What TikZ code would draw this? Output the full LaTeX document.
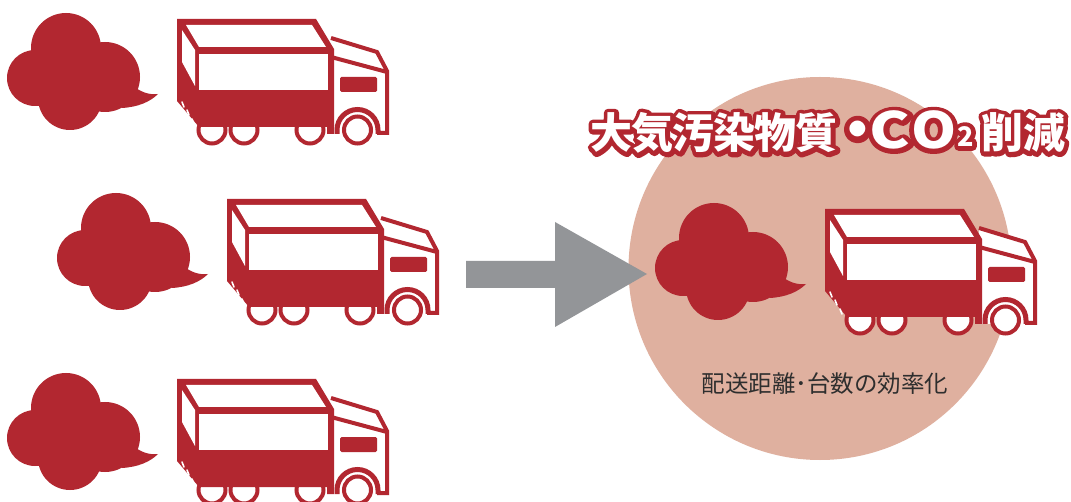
\documentclass[tikz,border=0pt]{standalone}
\usepackage{fontspec}
\usepackage{graphicx}
\newfontfamily\jpfont{Noto Sans CJK JP}
\usetikzlibrary{calc}

\definecolor{truckred}{HTML}{B22730}
\definecolor{ringfill}{HTML}{DFB09F}
\definecolor{arrowgray}{HTML}{939598}
\definecolor{labelgray}{HTML}{2E2E2E}

% headline: every glyph is centred on its own x position
\newcommand\headline{%
  \hspace*{20.5pt}\makebox[0pt]{大}%
  \hspace{41pt}\makebox[0pt]{気}%
  \hspace{41pt}\makebox[0pt]{汚}%
  \hspace{41pt}\makebox[0pt]{染}%
  \hspace{41pt}\makebox[0pt]{物}%
  \hspace{41pt}\makebox[0pt]{質}%
  \hspace{41pt}\makebox[0pt]{\raisebox{-2pt}{\scalebox{1.35}{・}}}%
  \hspace{32.5pt}\makebox[0pt]{\fontsize{50pt}{50pt}\selectfont\scalebox{1.22}[1]{C}}%
  \hspace{43.5pt}\makebox[0pt]{\fontsize{50pt}{50pt}\selectfont\scalebox{1.15}[1]{O}}%
  \hspace{32pt}\makebox[0pt]{\raisebox{2.5pt}{\fontsize{27pt}{27pt}\selectfont 2}}%
  \hspace{37pt}\makebox[0pt]{削}%
  \hspace{41.5pt}\makebox[0pt]{減}%
  \hspace*{20.5pt}}

% glyph outlines stroked only (text render mode 1), round joins
\newcommand\strokedtext[1]{%
  \special{pdf:literal direct 1 Tr 8.6 w 1 j 1 J}#1\special{pdf:literal direct 0 Tr}}

\tikzset{
  headtext/.style={anchor=base west, inner sep=0pt,
    font=\jpfont\bfseries\fontsize{42pt}{42pt}\selectfont},
  headedge/.style={headtext, text=truckred},
  headface/.style={headtext, text=white},
  caption/.style={anchor=base, inner sep=0pt, text=labelgray,
    font=\jpfont\fontsize{23.5pt}{23.5pt}\selectfont},
  redline/.style={draw=truckred, line width=4pt},
  wheel/.style={fill=white, draw=truckred, line width=4pt},
  % exhaust cloud followed by a box truck, in its own local frame
  lorry/.pic={
    % cloud
    \fill[truckred] (66,48) circle[radius=35] (35,78) circle[radius=28]
                    (105,77) circle[radius=35] (70,98) circle[radius=32];
    \fill[truckred] (136,88) .. controls (143,93) and (151,95) .. (158,94)
                    .. controls (150,102) and (138,107) .. (122,108)
                    -- (118,95) -- cycle;
    % cab
    \fill[white] (331,38) -- (377,52) -- (387,71) -- (387,134) -- (331,134) -- cycle;
    \draw[redline, line join=miter] (331,38) -- (377,52) -- (387,71) -- (387,133) -- (377,133);
    \draw[redline] (331,57) -- (387,72);
    \fill[truckred, rounded corners=1.5pt] (340,77) rectangle (377,92);
    \draw[truckred, line width=5pt] (337,134) -- (337,130)
         arc[start angle=180, end angle=360, radius=20.5] -- (378,134);
    \draw[wheel] (357.5,130) circle[radius=13.5];
    % rear wheels
    \draw[wheel] (212,130) circle[radius=13.5] (244,130) circle[radius=13.5]
                 (310,130) circle[radius=13.5];
    % cargo box
    \fill[truckred] (177,19) -- (316,19) -- (334,49) -- (334,134) -- (327,134)
                    -- (327,127) -- (199,127) -- (177,101) -- cycle;
    \fill[white] (186,25) -- (312,25) -- (326,47) -- (199,47) -- cycle;
    \fill[white] (199,54) rectangle (328,90);
    \fill[white] (182,30) -- (195,50) -- (195,86) -- (182,62) -- cycle;
    \draw[white, line width=1.6pt, line cap=round]
         (182,102) -- (184,107) (187,110) -- (189,115) (192,119) -- (194,124);
  }
}

\begin{document}
\begin{tikzpicture}[x=1pt, y=-1pt]
  \useasboundingbox (0,0) rectangle (1071,502);
  \clip (0,0) rectangle (1071,502);
  \fill[white] (0,0) rectangle (1071,502);

  % trucks before
  \pic at (0,0) {lorry};
  \pic at (50,180) {lorry};
  \pic at (0,360) {lorry};

  % result disc
  \fill[ringfill] (820,268.5) circle[radius=191.5];

  % transition arrow
  \fill[arrowgray] (466,261) -- (555,261) -- (555,222) -- (647,274)
                   -- (555,327) -- (555,288) -- (466,288) -- cycle;

  % truck after
  \pic at (648,190) {lorry};

  % outlined headline: red stroke underneath, white fill on top
  \coordinate (hl) at (591,149);
  \node[headedge] (headedge) at (hl) {\strokedtext{\headline}};
  \node[headface] (head) at (hl) {\headline};

  \node[caption] (cap) at (825,393) {配送距離･台数の効率化};
\end{tikzpicture}
\end{document}
